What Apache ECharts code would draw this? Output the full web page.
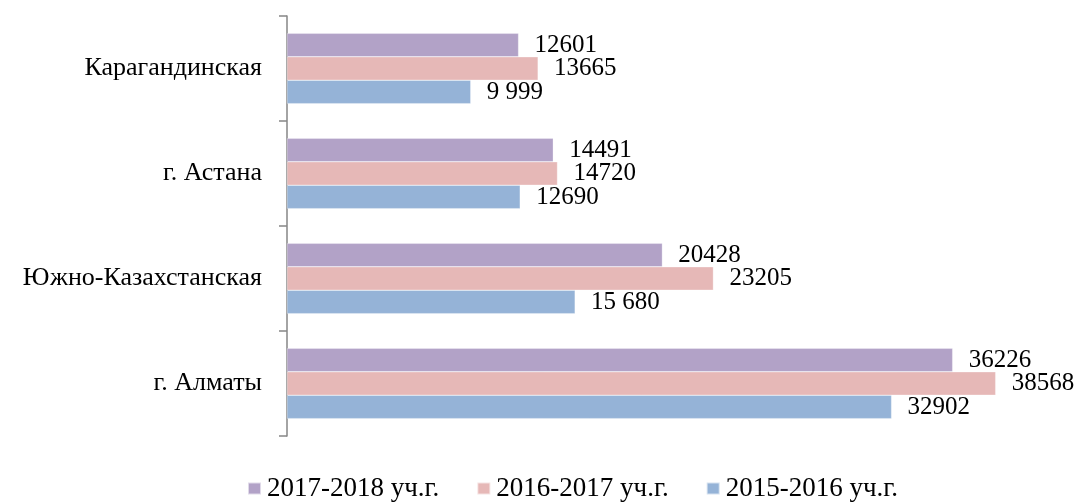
<!DOCTYPE html>
<html>
<head>
<meta charset="utf-8">
<script src="https://cdn.jsdelivr.net/npm/echarts@6/dist/echarts.min.js"></script>
<style>
  html, body { margin: 0; padding: 0; background: #fff; }
  #chart { width: 1082px; height: 503px; }
</style>
</head>
<body>
<div id="chart"></div>
<script>
// регионы (снизу вверх, как на оси)
const regions = ['г. Алматы', 'Южно-Казахстанская', 'г. Астана', 'Карагандинская']

const years = ['2017-2018 уч.г.', '2016-2017 уч.г.', '2015-2016 уч.г.']

const values2015 = [32902, 15680, 12690, 9999]
const values2016 = [38568, 23205, 14720, 13665]
const values2017 = [36226, 20428, 14491, 12601]

// подписи как на исходной картинке
const labels2015 = ['32902', '15 680', '12690', '9 999']
const labels2016 = ['38568', '23205', '14720', '13665']
const labels2017 = ['36226', '20428', '14491', '12601']

const colors = {
  purple: '#b2a2c7',
  pink: '#e6b8b7',
  blue: '#95b3d7'
}

const font = 'Liberation Serif, Times New Roman, serif'

const makeSeries = (name, data, labels, color) => ({
  name,
  type: 'bar',
  data,
  barGap: 0,
  barCategoryGap: '33%',
  itemStyle: { color, borderColor: 'rgba(255,255,255,0.6)', borderWidth: 0.5 },
  label: {
    show: true,
    position: 'right',
    distance: 16,
    color: '#000',
    fontFamily: font,
    fontSize: 25,
    formatter: (p) => labels[p.dataIndex]
  }
})

const chart = echarts.init(document.getElementById('chart'), null, { renderer: 'canvas' })

chart.setOption({
  animation: false,
  backgroundColor: '#fff',
  grid: { left: 287, top: 16, bottom: 67, right: 60, containLabel: false },
  xAxis: {
    type: 'value',
    min: 0,
    max: 40000,
    show: false
  },
  yAxis: {
    type: 'category',
    data: regions,
    axisLine: { show: true, lineStyle: { color: '#868686', width: 1.5 } },
    axisTick: { show: true, length: 8, lineStyle: { color: '#868686', width: 1.5 } },
    axisLabel: {
      margin: 25,
      color: '#000',
      fontFamily: font,
      fontSize: 26
    },
    splitLine: { show: false }
  },
  legend: {
    data: years,
    left: 242,
    top: 470,
    itemWidth: 13,
    itemHeight: 12,
    itemGap: 37,
    icon: 'rect',
    textStyle: { color: '#000', fontFamily: font, fontSize: 27, padding: [0, 0, 0, 1] }
  },
  // первая серия рисуется сверху внутри группы
  series: [
    makeSeries(years[0], values2017, labels2017, colors.purple),
    makeSeries(years[1], values2016, labels2016, colors.pink),
    makeSeries(years[2], values2015, labels2015, colors.blue)
  ]
})
</script>
</body>
</html>
